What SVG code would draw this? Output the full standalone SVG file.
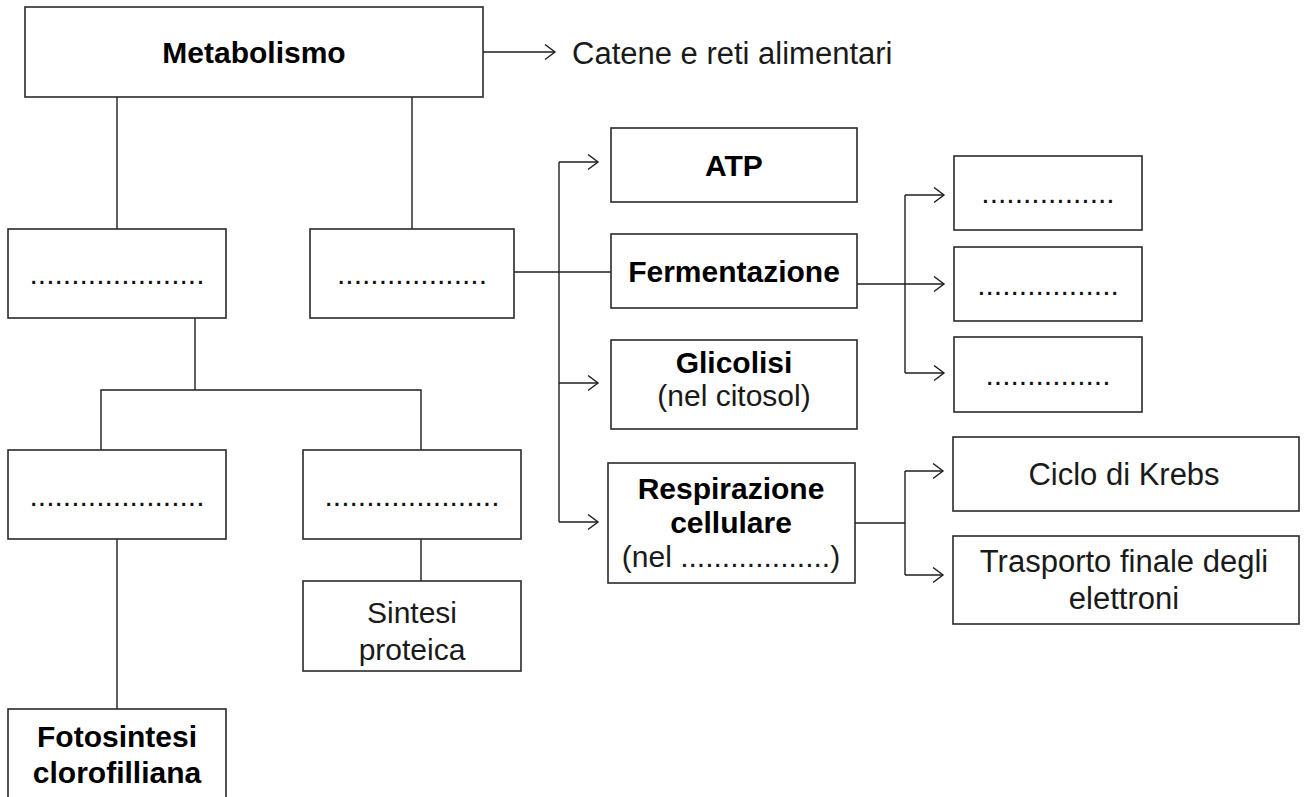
<svg xmlns="http://www.w3.org/2000/svg" width="1304" height="797" viewBox="0 0 1304 797">
  <defs>
    <style>
      .box { fill: #ffffff; stroke: #2a2a2a; stroke-width: 1.6; }
      .ln { fill: none; stroke: #1e1e1e; stroke-width: 1.4; }
      .b { font-family: "Liberation Sans", Arial, sans-serif; font-weight: bold; font-size: 30px; fill: #000; text-anchor: middle; }
      .r { font-family: "Liberation Sans", Arial, sans-serif; font-size: 30px; fill: #1a1a1a; text-anchor: middle; }
      .rl { font-family: "Liberation Sans", Arial, sans-serif; font-size: 31px; fill: #1a1a1a; text-anchor: middle; }
      .d { font-family: "Liberation Sans", Arial, sans-serif; font-size: 30px; fill: #111; text-anchor: middle; }
    </style>
    <marker id="chev" markerUnits="userSpaceOnUse" markerWidth="14" markerHeight="19" refX="11" refY="8.5" orient="auto">
      <path d="M1,1 L11,8.5 L1,16" fill="none" stroke="#1e1e1e" stroke-width="1.4"/>
    </marker>
  </defs>

  <rect width="1304" height="797" fill="#ffffff"/>

  <g id="connectors">
    <line class="ln" x1="483" y1="52" x2="555" y2="52" marker-end="url(#chev)"/>
    <line class="ln" x1="117" y1="97" x2="117" y2="229"/>
    <line class="ln" x1="412" y1="97" x2="412" y2="229"/>
    <polyline class="ln" points="195,318 195,390"/>
    <polyline class="ln" points="101,450 101,390 421,390 421,450"/>
    <line class="ln" x1="117" y1="539" x2="117" y2="709"/>
    <line class="ln" x1="421" y1="539" x2="421" y2="581"/>
    <line class="ln" x1="514" y1="272" x2="611" y2="272"/>
    <line class="ln" x1="559" y1="162" x2="559" y2="522"/>
    <line class="ln" x1="559" y1="162" x2="598" y2="162" marker-end="url(#chev)"/>
    <line class="ln" x1="559" y1="383" x2="598" y2="383" marker-end="url(#chev)"/>
    <line class="ln" x1="559" y1="522" x2="598" y2="522" marker-end="url(#chev)"/>
    <line class="ln" x1="857" y1="284" x2="944" y2="284" marker-end="url(#chev)"/>
    <line class="ln" x1="905" y1="195" x2="905" y2="373"/>
    <line class="ln" x1="905" y1="195" x2="944" y2="195" marker-end="url(#chev)"/>
    <line class="ln" x1="905" y1="373" x2="944" y2="373" marker-end="url(#chev)"/>
    <line class="ln" x1="855" y1="523" x2="905" y2="523"/>
    <line class="ln" x1="905" y1="471" x2="905" y2="575"/>
    <line class="ln" x1="905" y1="471" x2="943" y2="471" marker-end="url(#chev)"/>
    <line class="ln" x1="905" y1="575" x2="943" y2="575" marker-end="url(#chev)"/>
  </g>

  <g id="metabolismo">
    <rect class="box" x="25" y="7" width="458" height="90"/>
    <text class="b" x="254" y="63">Metabolismo</text>
  </g>

  <g id="catene">
    <text class="rl" x="572" y="64" style="text-anchor:start">Catene e reti alimentari</text>
  </g>

  <g id="box-a">
    <rect class="box" x="8" y="229" width="218" height="89"/>
    <text class="d" x="117" y="284">.....................</text>
  </g>

  <g id="box-b">
    <rect class="box" x="310" y="229" width="204" height="89"/>
    <text class="d" x="412" y="284">..................</text>
  </g>

  <g id="box-c">
    <rect class="box" x="8" y="450" width="218" height="89"/>
    <text class="d" x="117" y="506">.....................</text>
  </g>

  <g id="box-d">
    <rect class="box" x="303" y="450" width="218" height="89"/>
    <text class="d" x="412" y="506">.....................</text>
  </g>

  <g id="sintesi">
    <rect class="box" x="303" y="581" width="218" height="90"/>
    <text class="r" x="412" y="623">Sintesi</text>
    <text class="r" x="412" y="660">proteica</text>
  </g>

  <g id="fotosintesi">
    <rect class="box" x="8" y="709" width="218" height="100"/>
    <text class="b" x="117" y="747">Fotosintesi</text>
    <text class="b" x="117" y="783">clorofilliana</text>
  </g>

  <g id="atp">
    <rect class="box" x="611" y="128" width="246" height="74"/>
    <text class="b" x="734" y="176">ATP</text>
  </g>

  <g id="fermentazione">
    <rect class="box" x="611" y="234" width="246" height="74"/>
    <text class="b" x="734" y="282">Fermentazione</text>
  </g>

  <g id="glicolisi">
    <rect class="box" x="611" y="340" width="246" height="89"/>
    <text class="b" x="734" y="373">Glicolisi</text>
    <text class="r" x="734" y="406">(nel citosol)</text>
  </g>

  <g id="respirazione">
    <rect class="box" x="608" y="463" width="247" height="120"/>
    <text class="b" x="731" y="499">Respirazione</text>
    <text class="b" x="731" y="533">cellulare</text>
    <text class="r" x="731" y="567">(nel ..................)</text>
  </g>

  <g id="ferm-1">
    <rect class="box" x="954" y="156" width="188" height="74"/>
    <text class="d" x="1048" y="203">................</text>
  </g>

  <g id="ferm-2">
    <rect class="box" x="954" y="247" width="188" height="74"/>
    <text class="d" x="1048" y="295">.................</text>
  </g>

  <g id="ferm-3">
    <rect class="box" x="954" y="337" width="188" height="75"/>
    <text class="d" x="1048" y="385">...............</text>
  </g>

  <g id="krebs">
    <rect class="box" x="953" y="437" width="346" height="74"/>
    <text class="rl" x="1124" y="485">Ciclo di Krebs</text>
  </g>

  <g id="trasporto">
    <rect class="box" x="953" y="536" width="346" height="88"/>
    <text class="rl" x="1124" y="572">Trasporto finale degli</text>
    <text class="rl" x="1124" y="609">elettroni</text>
  </g>
</svg>
